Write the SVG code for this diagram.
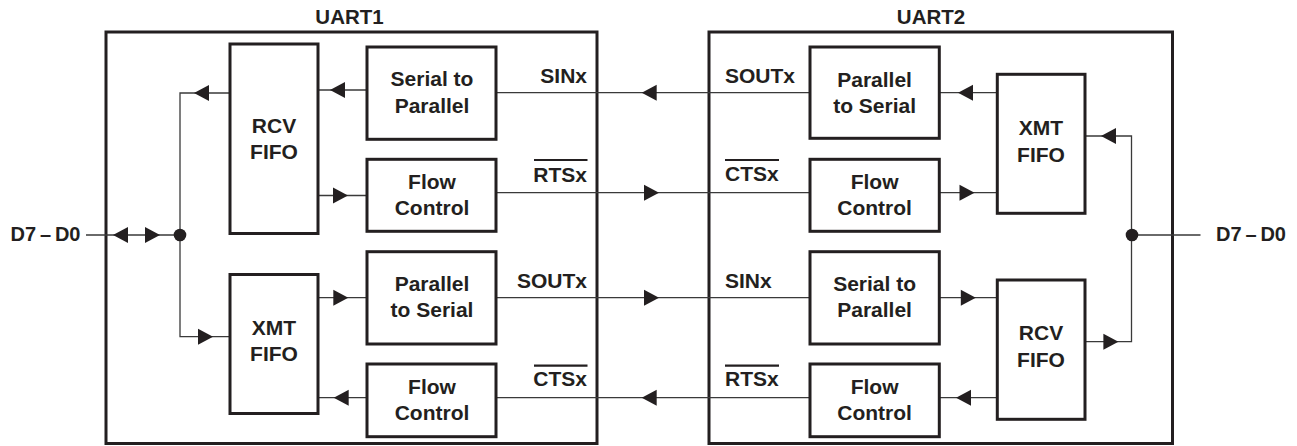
<svg xmlns="http://www.w3.org/2000/svg" xmlns:xlink="http://www.w3.org/1999/xlink" width="1297" height="446" viewBox="0 0 1297 446">
<style>
text{font-family:"Liberation Sans",Arial,Helvetica,sans-serif;font-weight:bold;font-size:21px;fill:#231f20}
.c{text-anchor:middle}
.r{text-anchor:end}
.t{font-size:20.5px}
.d{font-size:20px;word-spacing:-1.7px}
.box{fill:#fff;stroke:#231f20;stroke-width:3}
.uart{fill:none;stroke:#231f20;stroke-width:3}
.ln{fill:none;stroke:#3a3a3a;stroke-width:1.3}
.ov{stroke:#231f20;stroke-width:2.2}
.ah{fill:#231f20}
</style>
<defs>
<polygon id="aR" points="-15,-8 0,0 -15,8"/>
<polygon id="aL" points="15,-8 0,0 15,8"/>
</defs>
<rect width="1297" height="446" fill="#fff"/>

<g id="uart1">
<rect class="uart" x="106" y="32" width="491" height="411.5"/>
<text class="c t" x="349.5" y="24.3">UART1</text>
</g>
<g id="uart2">
<rect class="uart" x="709" y="32" width="463.5" height="411.5"/>
<text class="c t" x="931" y="24.3">UART2</text>
</g>

<g id="connectors">
<!-- left bus -->
<path class="ln" d="M86,235 H180 M230,93 H180 V336.7 H230"/>
<circle class="ah" cx="180" cy="235" r="6.3"/>
<use href="#aL" class="ah" x="113" y="235"/>
<use href="#aR" class="ah" x="160" y="235"/>
<use href="#aL" class="ah" x="194" y="93"/>
<use href="#aR" class="ah" x="213" y="336.7"/>
<!-- left internal -->
<path class="ln" d="M318,90 H367 M318,195.5 H367 M318,297.7 H367 M318,397.7 H367"/>
<use href="#aL" class="ah" x="330" y="90"/>
<use href="#aR" class="ah" x="348" y="195.5"/>
<use href="#aR" class="ah" x="348.3" y="297.7"/>
<use href="#aL" class="ah" x="333.7" y="397.7"/>
<!-- center links -->
<path class="ln" d="M496,92.7 H810 M496,192.7 H810 M496,297.7 H810 M496,397.7 H810"/>
<use href="#aL" class="ah" x="641.7" y="92.7"/>
<use href="#aR" class="ah" x="659" y="192.7"/>
<use href="#aR" class="ah" x="659" y="297.7"/>
<use href="#aL" class="ah" x="641.7" y="397.7"/>
<!-- right internal -->
<path class="ln" d="M939,92.7 H997 M939,192.7 H997 M939,297.7 H997 M939,397.7 H997"/>
<use href="#aL" class="ah" x="958" y="92.7"/>
<use href="#aR" class="ah" x="974.5" y="192.7"/>
<use href="#aR" class="ah" x="975.8" y="297.7"/>
<use href="#aL" class="ah" x="956" y="397.7"/>
<!-- right bus -->
<path class="ln" d="M1085,136 H1131.5 V341.7 H1085 M1131.5,235 H1200.5"/>
<circle class="ah" cx="1132" cy="235" r="6.3"/>
<use href="#aL" class="ah" x="1101" y="136"/>
<use href="#aR" class="ah" x="1118.4" y="341.7"/>
<!-- signal labels -->
<text class="r" x="587" y="82.7">SINx</text>
<text class="r" x="587" y="181.7">RTSx</text>
<line class="ov" x1="534" y1="160" x2="587.5" y2="160"/>
<text class="r" x="587" y="288.3">SOUTx</text>
<text class="r" x="587" y="385.7">CTSx</text>
<line class="ov" x1="534" y1="365.7" x2="587.5" y2="365.7"/>
<text x="725" y="82.7">SOUTx</text>
<text x="725" y="180.5">CTSx</text>
<line class="ov" x1="725" y1="160" x2="779" y2="160"/>
<text x="725" y="288.3">SINx</text>
<text x="725" y="385.7">RTSx</text>
<line class="ov" x1="725" y1="365.7" x2="779" y2="365.7"/>
<text class="d" x="10.5" y="240.5">D7 – D0</text>
<text class="d" x="1216" y="241">D7 – D0</text>
</g>

<g id="rcv-fifo-1">
<rect class="box" x="230" y="44" width="88" height="189.5"/>
<text class="c" x="274" y="133.3">RCV</text>
<text class="c" x="274" y="159.3">FIFO</text>
</g>
<g id="xmt-fifo-1">
<rect class="box" x="230" y="274.5" width="88" height="139"/>
<text class="c" x="274" y="335">XMT</text>
<text class="c" x="274" y="361">FIFO</text>
</g>
<g id="s2p-1">
<rect class="box" x="367" y="47" width="129" height="92.3"/>
<text class="c" x="432" y="86">Serial to</text>
<text class="c" x="432" y="112.7">Parallel</text>
</g>
<g id="flow-1a">
<rect class="box" x="367" y="159.3" width="129" height="72"/>
<text class="c" x="432" y="189.3">Flow</text>
<text class="c" x="432" y="215">Control</text>
</g>
<g id="p2s-1">
<rect class="box" x="367" y="251.7" width="129" height="92.3"/>
<text class="c" x="432" y="291">Parallel</text>
<text class="c" x="432" y="317.3">to Serial</text>
</g>
<g id="flow-1b">
<rect class="box" x="367" y="364" width="129" height="72.7"/>
<text class="c" x="432" y="394">Flow</text>
<text class="c" x="432" y="420">Control</text>
</g>

<g id="p2s-2">
<rect class="box" x="810" y="47" width="129.3" height="91.3"/>
<text class="c" x="874.6" y="86.7">Parallel</text>
<text class="c" x="874.6" y="113.3">to Serial</text>
</g>
<g id="flow-2a">
<rect class="box" x="810" y="159.3" width="129.3" height="72"/>
<text class="c" x="874.6" y="189.3">Flow</text>
<text class="c" x="874.6" y="215">Control</text>
</g>
<g id="s2p-2">
<rect class="box" x="810" y="251.7" width="129.3" height="92.3"/>
<text class="c" x="874.6" y="291">Serial to</text>
<text class="c" x="874.6" y="317.3">Parallel</text>
</g>
<g id="flow-2b">
<rect class="box" x="810" y="364" width="129.3" height="72.7"/>
<text class="c" x="874.6" y="394">Flow</text>
<text class="c" x="874.6" y="420">Control</text>
</g>
<g id="xmt-fifo-2">
<rect class="box" x="997.3" y="74.3" width="87.7" height="139"/>
<text class="c" x="1041" y="135">XMT</text>
<text class="c" x="1041" y="161.7">FIFO</text>
</g>
<g id="rcv-fifo-2">
<rect class="box" x="997.3" y="280" width="87.7" height="139.3"/>
<text class="c" x="1041" y="340">RCV</text>
<text class="c" x="1041" y="366.7">FIFO</text>
</g>
</svg>
